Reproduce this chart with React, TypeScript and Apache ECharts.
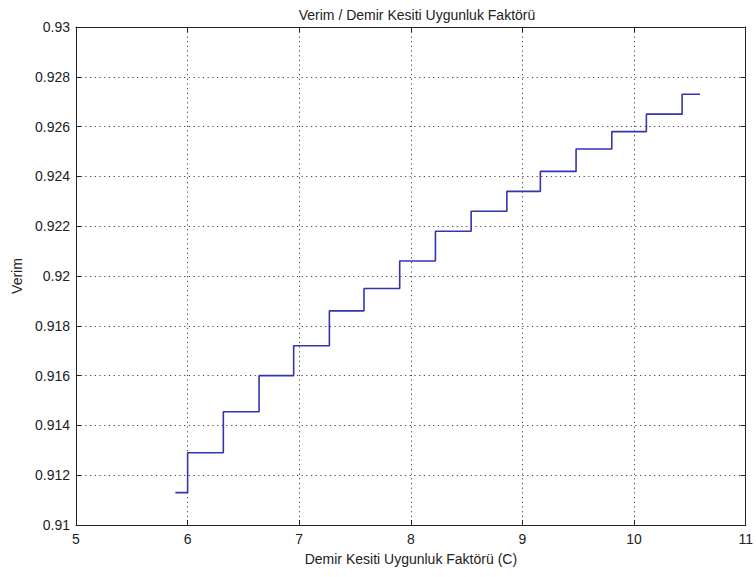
import React, { useEffect, useRef } from "react";
import * as echarts from "echarts";

const stepX = [5.89, 6.0, 6.32, 6.64, 6.95, 7.27, 7.58, 7.9, 8.22, 8.54, 8.86, 9.16, 9.48, 9.8, 10.11, 10.43, 10.59];
const stepY = [0.9113, 0.9129, 0.91455, 0.916, 0.9172, 0.9186, 0.9195, 0.9206, 0.9218, 0.9226, 0.9234, 0.9242, 0.9251, 0.9258, 0.9265, 0.9273, 0.9273];

const titleText = "Verim / Demir Kesiti Uygunluk Faktörü";
const xName = "Demir Kesiti Uygunluk Faktörü (C)";
const yName = "Verim";

const FONT = "'Liberation Sans', Arial, sans-serif";

export default function App() {
  const ref = useRef<HTMLDivElement>(null);
  useEffect(() => {
    if (!ref.current) return;
    const chart = echarts.init(ref.current, null, { renderer: "svg" });
    const data = stepX.map((x, i) => [x, stepY[i]]);
    const axisLine = { show: true, lineStyle: { color: "#222", width: 1 } };
    const tick = { show: true, inside: true, length: 5, lineStyle: { color: "#222", width: 1 } };
    const split = { show: true, lineStyle: { color: "#444", type: [1.2, 3.5], width: 1 } };
    chart.setOption({
      animation: false,
      backgroundColor: "#fff",
      title: {
        text: titleText,
        left: 412,
        top: 3,
        textAlign: "center",
        textStyle: { fontFamily: FONT, fontSize: 14, fontWeight: "normal", color: "#222" },
      },
      grid: { left: 76, right: 7, top: 27, bottom: 52, containLabel: false },
      xAxis: [
        {
          type: "value",
          min: 5,
          max: 11,
          interval: 1,
          position: "bottom",
          axisLine,
          axisTick: tick,
          splitLine: split,
          axisLabel: { fontFamily: FONT, fontSize: 14, color: "#222", margin: 7 },
          name: xName,
          nameLocation: "middle",
          nameGap: 27,
          nameTextStyle: { fontFamily: FONT, fontSize: 14, color: "#222" },
        },
        {
          type: "value",
          min: 5,
          max: 11,
          interval: 1,
          position: "top",
          axisLine,
          axisTick: tick,
          splitLine: { show: false },
          axisLabel: { show: false },
        },
      ],
      yAxis: [
        {
          type: "value",
          min: 0.91,
          max: 0.93,
          interval: 0.002,
          position: "left",
          axisLine,
          axisTick: tick,
          splitLine: split,
          axisLabel: { fontFamily: FONT, fontSize: 14, color: "#222", margin: 6 },
          name: yName,
          nameLocation: "middle",
          nameGap: 50,
          nameTextStyle: { fontFamily: FONT, fontSize: 14, color: "#222" },
        },
        {
          type: "value",
          min: 0.91,
          max: 0.93,
          interval: 0.002,
          position: "right",
          axisLine,
          axisTick: tick,
          splitLine: { show: false },
          axisLabel: { show: false },
        },
      ],
      series: [
        {
          type: "line",
          step: "end",
          data,
          showSymbol: false,
          symbol: "none",
          lineStyle: { color: "#3434b0", width: 1.6 },
          xAxisIndex: 0,
          yAxisIndex: 0,
        },
      ],
    });
    return () => chart.dispose();
  }, []);
  return <div ref={ref} style={{ width: 756, height: 577, position: "absolute", left: 0, top: 0 }} />;
}
